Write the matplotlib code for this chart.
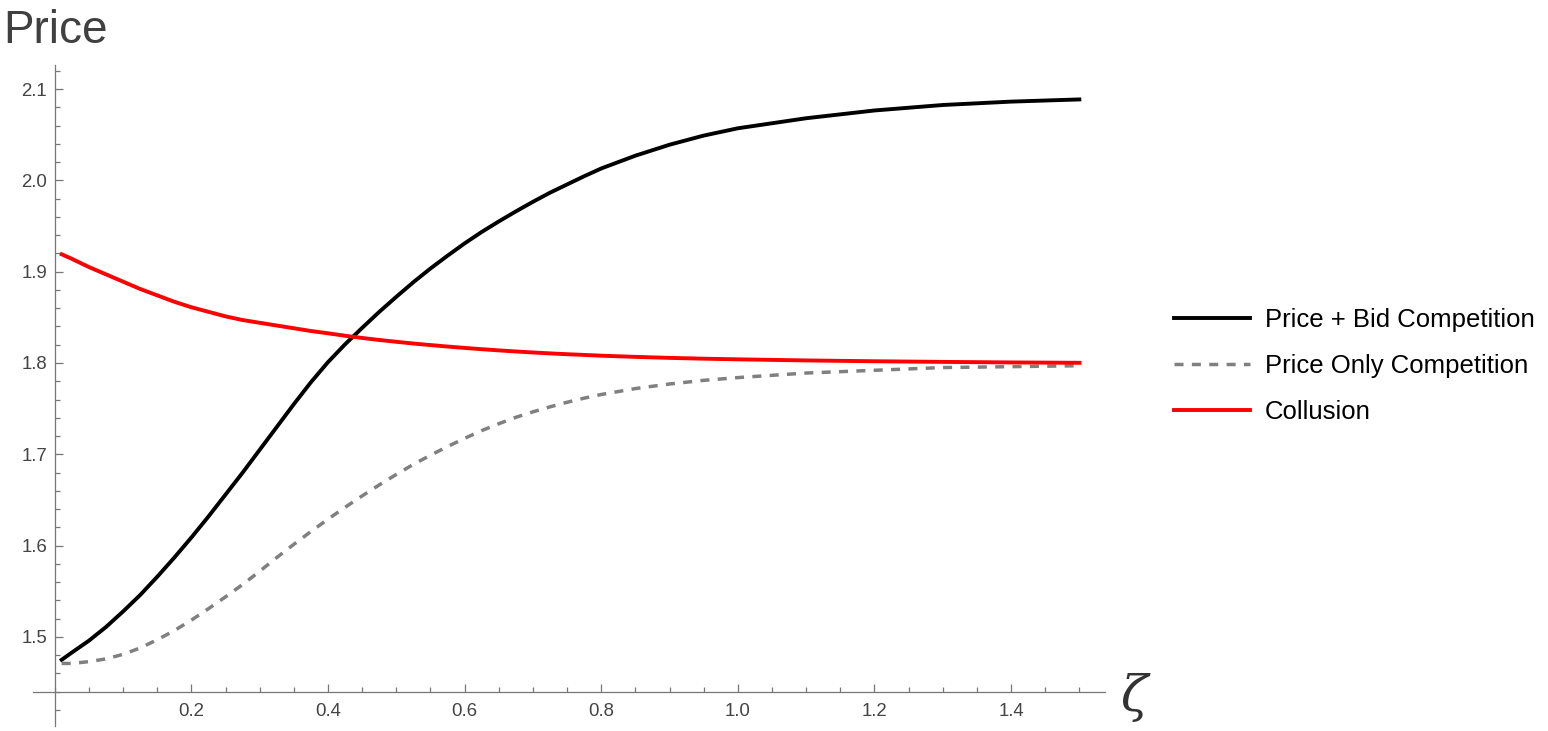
import matplotlib.pyplot as plt
from matplotlib.ticker import FixedLocator, MultipleLocator

# values
zeta = [0.01, 0.025, 0.05, 0.075, 0.1, 0.125, 0.15, 0.175, 0.2, 0.225, 0.25, 0.275,
        0.3, 0.325, 0.35, 0.375, 0.4, 0.425, 0.45, 0.475, 0.5, 0.525, 0.55, 0.575,
        0.6, 0.625, 0.65, 0.675, 0.7, 0.725, 0.75, 0.775, 0.8, 0.85, 0.9, 0.95,
        1.0, 1.1, 1.2, 1.3, 1.4, 1.5]
price_bid = [1.475, 1.483, 1.496, 1.511, 1.528, 1.546, 1.566, 1.587, 1.609, 1.632,
             1.656, 1.680, 1.705, 1.730, 1.755, 1.779, 1.801, 1.8205, 1.8385, 1.856,
             1.8725, 1.8885, 1.9035, 1.9175, 1.931, 1.9435, 1.955, 1.966, 1.9765,
             1.9865, 1.9955, 2.0045, 2.013, 2.027, 2.039, 2.049, 2.057, 2.068,
             2.0765, 2.0825, 2.0862, 2.0886]
price_only = [1.471, 1.471, 1.473, 1.476, 1.481, 1.488, 1.497, 1.507, 1.5185, 1.531,
              1.544, 1.5575, 1.572, 1.587, 1.6015, 1.6155, 1.629, 1.642, 1.6545,
              1.6665, 1.678, 1.689, 1.699, 1.7085, 1.7175, 1.726, 1.7335, 1.7405,
              1.7465, 1.752, 1.757, 1.7615, 1.7655, 1.772, 1.777, 1.781, 1.784,
              1.789, 1.792, 1.795, 1.796, 1.797]
collusion = [1.919, 1.914, 1.905, 1.897, 1.889, 1.881, 1.874, 1.867, 1.861, 1.856,
             1.851, 1.847, 1.844, 1.841, 1.838, 1.835, 1.8325, 1.8298, 1.8274, 1.8252,
             1.8232, 1.8213, 1.8196, 1.8180, 1.8165, 1.8151, 1.8138, 1.8126, 1.8115,
             1.8105, 1.8096, 1.8088, 1.8080, 1.8067, 1.8056, 1.8047, 1.8040, 1.8028,
             1.8019, 1.8012, 1.8006, 1.8002]

series_names = ["Price + Bid Competition", "Price Only Competition", "Collusion"]
x_ticks = [0.2, 0.4, 0.6, 0.8, 1.0, 1.2, 1.4]
x_labels = ["0.2", "0.4", "0.6", "0.8", "1.0", "1.2", "1.4"]
y_ticks = [1.5, 1.6, 1.7, 1.8, 1.9, 2.0, 2.1]
y_labels = ["1.5", "1.6", "1.7", "1.8", "1.9", "2.0", "2.1"]

plt.rcParams['font.family'] = ['Liberation Sans', 'DejaVu Sans']

W, H = 1548, 731
fig = plt.figure(figsize=(W / 100, H / 100), dpi=100)
ax = fig.add_axes([33 / W, 1 - 726 / H, (1105 - 33) / W, (726 - 65) / H])

ax.plot(zeta, price_bid, color="black", lw=2.8, label=series_names[0])
ax.plot(zeta, price_only, color="#808080", lw=2.5, linestyle=(0, (2.6, 2.4)),
        dash_capstyle="butt", label=series_names[1])
ax.plot(zeta, collusion, color="#ff0000", lw=2.8, label=series_names[2])

ax.set_xlim(-0.032, 1.5376)
ax.set_ylim(1.4025, 2.1263)

# Mathematica style crossing axes
axis_gray = "#777777"
for side in ["top", "right"]:
    ax.spines[side].set_visible(False)
ax.spines["left"].set_position(("data", 0))
ax.spines["bottom"].set_position(("data", 1.44))
for side in ["left", "bottom"]:
    ax.spines[side].set_color(axis_gray)
    ax.spines[side].set_linewidth(0.9)

ax.xaxis.set_major_locator(FixedLocator(x_ticks))
ax.xaxis.set_minor_locator(MultipleLocator(0.05))
ax.set_xticklabels(x_labels)
ax.yaxis.set_major_locator(FixedLocator(y_ticks))
ax.yaxis.set_minor_locator(MultipleLocator(0.02))
ax.set_yticklabels(y_labels)

ax.tick_params(which="both", direction="in", color=axis_gray, width=0.9,
               labelsize=13.4, labelcolor="#444444")
ax.tick_params(which="major", length=6)
ax.tick_params(which="minor", length=3.5)
ax.tick_params(axis="x", pad=8)
ax.tick_params(axis="y", pad=5.5)

fig.text(3 / W, 1 - 43 / H, "Price", fontsize=33, color="#404040", va="baseline")
fig.text(1121 / W, 1 - 711 / H, "ζ", fontsize=36, color="#333333",
         fontstyle="italic", family=["DejaVu Serif"], va="baseline")

fig.legend(loc="center left", bbox_to_anchor=(1174 / W, 1 - 366 / H),
           frameon=False, fontsize=18.5, borderpad=0, borderaxespad=0,
           handlelength=2.96, handletextpad=0.58, labelspacing=0.87)

fig.savefig("out.png", dpi=100)
